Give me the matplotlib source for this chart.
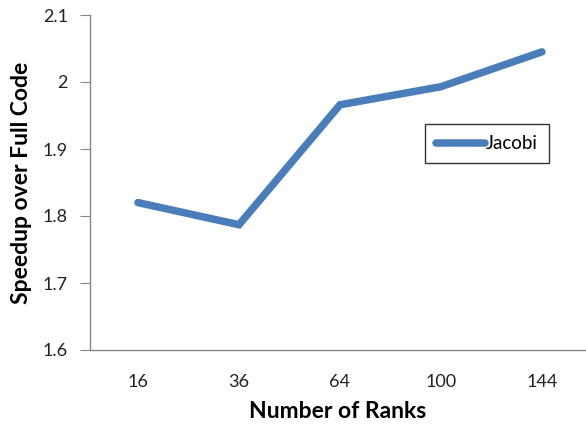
import matplotlib
matplotlib.use("Agg")
import matplotlib.pyplot as plt
import numpy as np

categories = ["16", "36", "64", "100", "144"]
speedup = [1.820, 1.787, 1.966, 1.993, 2.045]
yticks = [1.6, 1.7, 1.8, 1.9, 2.0, 2.1]
ytick_labels = ["1.6", "1.7", "1.8", "1.9", "2", "2.1"]

plt.rcParams['font.family'] = ['Lato', 'DejaVu Sans']

W, H = 586, 426
fig = plt.figure(figsize=(W/100, H/100), dpi=100)
left, right, top, bottom = 90, 586, 15, 350
ax = fig.add_axes([left/W, 1 - bottom/H, (right-left)/W, (bottom-top)/H])

x = np.arange(len(categories))
color = "#4A7EBB"
ax.plot(x, speedup, color=color, lw=5.4, solid_capstyle='round',
        solid_joinstyle='miter', label="Jacobi")

ax.set_xlim(-0.475, 4.436)
ax.set_ylim(1.6, 2.1)
ax.set_yticks(yticks)
ax.set_yticklabels(ytick_labels)
ax.set_xticks(x)
ax.set_xticklabels(categories)

for s in ["top", "right"]:
    ax.spines[s].set_visible(False)
for s in ["left", "bottom"]:
    ax.spines[s].set_color("#868686")
    ax.spines[s].set_linewidth(1.0)
ax.tick_params(axis='y', direction='out', length=7, color="#868686",
               labelsize=13, pad=9, labelcolor="#222222")
ax.tick_params(axis='x', length=0, labelsize=13, pad=17, labelcolor="#222222")

ax.set_ylabel("Speedup over Full Code", fontsize=16.5, fontweight='bold', labelpad=8)
ax.set_xlabel("Number of Ranks", fontsize=16.5, fontweight='bold', labelpad=8)

leg = ax.legend(loc='upper left', bbox_to_anchor=((425-left)/(right-left), 1-(124-top)/(bottom-top)),
                frameon=True, fancybox=False, fontsize=13.5, handlelength=2.6,
                handletextpad=0.05, borderpad=0.6, borderaxespad=0)
leg.get_frame().set_edgecolor("black")
leg.get_frame().set_linewidth(1.0)

fig.savefig("out.png", dpi=100)
